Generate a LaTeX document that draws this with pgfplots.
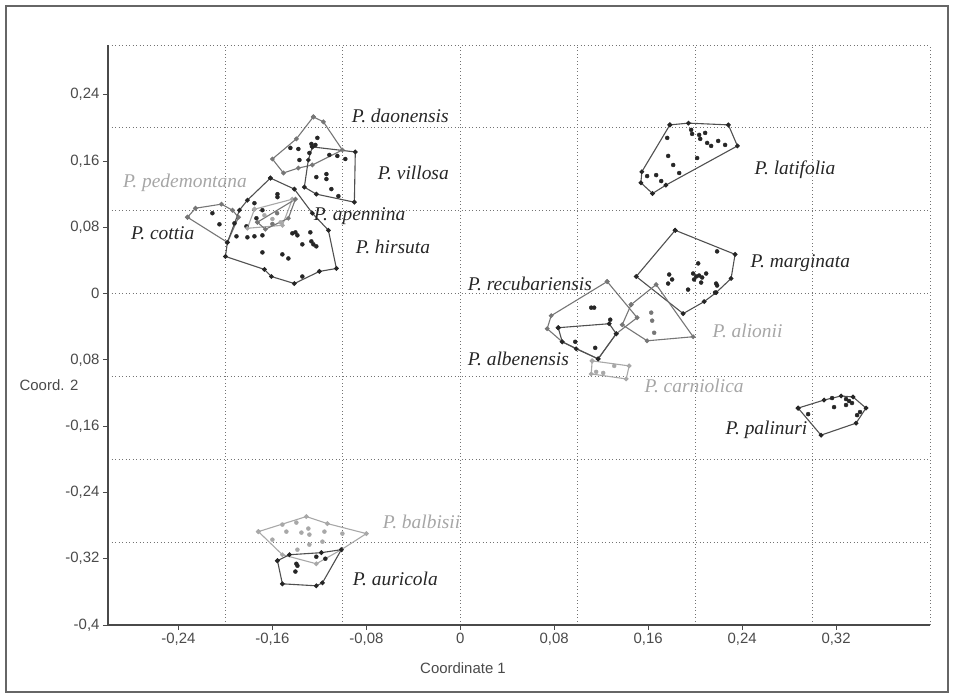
\documentclass[border=0pt]{standalone}
\usepackage{pgfplots}
\pgfplotsset{compat=1.18}
\usepackage{fontspec}
\setmainfont{Liberation Sans}
\newfontfamily\spfont{Liberation Serif}
\definecolor{axgray}{HTML}{4A4A4A}
\definecolor{darkpt}{HTML}{262626}
\definecolor{darkln}{HTML}{505050}
\definecolor{midln}{HTML}{767676}
\definecolor{lightln}{HTML}{A8A8A8}
\definecolor{lighttx}{HTML}{A6A6A6}
\pgfplotsset{
  hullD/.style={darkln, line width=1.1bp, mark=*, mark size=1.8bp, mark options={fill=darkpt, draw=darkpt}},
  hullM/.style={midln, line width=1.1bp, mark=*, mark size=1.8bp, mark options={fill=midln, draw=midln}},
  hullL/.style={lightln, line width=1.1bp, mark=*, mark size=1.8bp, mark options={fill=lightln, draw=lightln}},
  ptsD/.style={only marks, mark=*, mark size=2bp, darkpt},
  ptsM/.style={only marks, mark=*, mark size=2bp, midln},
  ptsL/.style={only marks, mark=*, mark size=2bp, lightln},
}
\newcommand{\splab}[1]{{\spfont\itshape\fontsize{19.5}{22}\selectfont #1}}
\begin{document}
\begin{tikzpicture}
\useasboundingbox (0,0) rectangle (954bp,698bp);
\draw[black!60, line width=1.8bp] (6bp,6bp) rectangle (948bp,692bp);
\begin{axis}[
  at={(108bp,73bp)}, anchor=south west,
  scale only axis, width=822bp, height=580bp,
  xmin=-0.3, xmax=0.4, ymin=-0.4, ymax=0.3,
  axis lines=left,
  axis line style={-, axgray, line width=1.3bp},
  clip=false,
  xtick={-0.24,-0.16,-0.08,0,0.08,0.16,0.24,0.32},
  xticklabels={{-0,24},{-0,16},{-0,08},{0},{0,08},{0,16},{0,24},{0,32}},
  ytick={-0.4,-0.32,-0.24,-0.16,-0.08,0,0.08,0.16,0.24},
  yticklabels={{-0,4},{-0,32},{-0,24},{-0,16},{0,08},{0},{0,08},{0,16},{0,24}},
  tick align=outside,
  major tick length=5bp,
  tick style={axgray, line width=1bp},
  minor xtick={-0.2,-0.1,0,0.1,0.2,0.3,0.4},
  minor ytick={-0.3,-0.2,-0.1,0,0.1,0.2,0.3},
  minor tick length=0pt,
  xminorgrids=true, yminorgrids=true,
  minor grid style={black!55, line width=0.9bp, dash pattern=on 0.9bp off 2.6bp},
  ticklabel style={font=\fontsize{15}{18}\selectfont, text=axgray},
]
% P. daonensis
\addplot[hullM] coordinates {(-0.1251,0.2133) (-0.1166,0.2073) (-0.1004,0.1733) (-0.1260,0.1552) (-0.1379,0.1515) (-0.1506,0.1455) (-0.1600,0.1624) (-0.1396,0.1867) (-0.1251,0.2133)};
\addplot[ptsD] coordinates {(-0.1447,0.1758) (-0.1379,0.1745) (-0.1268,0.1806) (-0.1217,0.1879) (-0.1234,0.1794) (-0.1285,0.1697) (-0.1370,0.1612)};
% P. villosa
\addplot[hullD] coordinates {(-0.1260,0.1770) (-0.0894,0.1709) (-0.0902,0.1103) (-0.1226,0.1200) (-0.1328,0.1285) (-0.1294,0.1612) (-0.1260,0.1770)};
\addplot[ptsD] coordinates {(-0.1115,0.1673) (-0.1047,0.1661) (-0.0979,0.1624) (-0.1226,0.1406) (-0.1140,0.1442) (-0.1140,0.1382) (-0.1098,0.1261) (-0.1038,0.1176)};
% P. cottia
\addplot[hullM] coordinates {(-0.2323,0.0921) (-0.2255,0.1030) (-0.2034,0.1079) (-0.1940,0.1006) (-0.1889,0.0921) (-0.1983,0.0618) (-0.2323,0.0921)};
\addplot[ptsD] coordinates {(-0.2111,0.0970) (-0.2051,0.0836) (-0.1923,0.0848)};
% P. hirsuta
\addplot[hullD] coordinates {(-0.1617,0.1394) (-0.1413,0.1261) (-0.1260,0.0970) (-0.1123,0.0764) (-0.1055,0.0303) (-0.1200,0.0267) (-0.1413,0.0121) (-0.1609,0.0206) (-0.1668,0.0291) (-0.2000,0.0448) (-0.1983,0.0618) (-0.1881,0.1006) (-0.1813,0.1127) (-0.1617,0.1394)};
\addplot[ptsD] coordinates {(-0.1753,0.1091) (-0.1685,0.1006) (-0.1557,0.1164) (-0.1557,0.1200) (-0.1736,0.0909) (-0.1821,0.0812) (-0.1813,0.0679) (-0.1753,0.0691) (-0.1685,0.0703) (-0.1430,0.0727) (-0.1387,0.0703) (-0.1345,0.0594) (-0.1268,0.0630) (-0.1277,0.0739) (-0.1226,0.0570) (-0.1685,0.0497) (-0.1515,0.0473) (-0.1464,0.0424) (-0.1345,0.0206) (-0.1906,0.0691) (-0.1404,0.0739) (-0.1251,0.0594)};
% P. pedemontana
\addplot[hullL] coordinates {(-0.1753,0.1018) (-0.1430,0.1139) (-0.1515,0.0824) (-0.1813,0.0788) (-0.1753,0.1018)};
\addplot[ptsL] coordinates {(-0.1668,0.0945) (-0.1600,0.0900) (-0.1530,0.0860)};
% P. apennina
\addplot[hullM] coordinates {(-0.1728,0.0861) (-0.1404,0.1139) (-0.1464,0.0909) (-0.1660,0.0776) (-0.1728,0.0861)};
\addplot[ptsM] coordinates {(-0.1560,0.0970) (-0.1600,0.0840)};
% P. latifolia
\addplot[hullD] coordinates {(0.1785,0.2036) (0.1943,0.2057) (0.2283,0.2036) (0.2360,0.1782) (0.1751,0.1309) (0.1637,0.1208) (0.1538,0.1337) (0.1546,0.1470) (0.1785,0.2036)};
\addplot[ptsD] coordinates {(0.1966,0.1976) (0.1974,0.1927) (0.2034,0.1915) (0.2085,0.1939) (0.2043,0.1867) (0.2102,0.1818) (0.2136,0.1782) (0.2196,0.1842) (0.2255,0.1794) (0.1762,0.1879) (0.1770,0.1661) (0.1813,0.1552) (0.1864,0.1455) (0.2017,0.1636) (0.1591,0.1418) (0.1668,0.1430) (0.1711,0.1358)};
% P. marginata
\addplot[hullD] coordinates {(0.1830,0.0764) (0.2340,0.0473) (0.2306,0.0182) (0.2179,0.0012) (0.2077,-0.0097) (0.1898,-0.0242) (0.1498,0.0206) (0.1830,0.0764)};
\addplot[ptsD] coordinates {(0.2187,0.0509) (0.2026,0.0364) (0.1779,0.0230) (0.1804,0.0170) (0.1770,0.0121) (0.1983,0.0242) (0.2009,0.0206) (0.2034,0.0218) (0.2060,0.0194) (0.2094,0.0242) (0.2051,0.0133) (0.1991,0.0170) (0.1940,0.0048) (0.2179,0.0121) (0.2187,0.0097) (0.2170,0.0012)};
% P. recubariensis
\addplot[hullM] coordinates {(0.1251,0.0145) (0.1506,-0.0291) (0.1328,-0.0485) (0.1174,-0.0788) (0.0868,-0.0582) (0.0740,-0.0424) (0.0774,-0.0267) (0.1251,0.0145)};
\addplot[ptsD] coordinates {(0.1115,-0.0170) (0.1140,-0.0170) (0.1277,-0.0315)};
% P. albenensis
\addplot[hullD] coordinates {(0.0834,-0.0412) (0.1268,-0.0364) (0.1328,-0.0485) (0.1174,-0.0788) (0.0987,-0.0667) (0.0868,-0.0582) (0.0834,-0.0412)};
\addplot[ptsD] coordinates {(0.0979,-0.0582) (0.1149,-0.0655)};
% P. alionii
\addplot[hullM] coordinates {(0.1455,-0.0133) (0.1668,0.0109) (0.1983,-0.0521) (0.1591,-0.0570) (0.1379,-0.0376) (0.1455,-0.0133)};
\addplot[ptsM] coordinates {(0.1626,-0.0230) (0.1634,-0.0327) (0.1651,-0.0473)};
% P. carniolica
\addplot[hullL] coordinates {(0.1123,-0.0812) (0.1438,-0.0873) (0.1413,-0.1030) (0.1115,-0.0970) (0.1123,-0.0812)};
\addplot[ptsL] coordinates {(0.1311,-0.0873) (0.1157,-0.0945) (0.1217,-0.0958)};
% P. palinuri
\addplot[hullD] coordinates {(0.2877,-0.1382) (0.3098,-0.1285) (0.3243,-0.1236) (0.3345,-0.1248) (0.3455,-0.1382) (0.3370,-0.1564) (0.3072,-0.1709) (0.2877,-0.1382)};
\addplot[ptsD] coordinates {(0.3166,-0.1261) (0.3285,-0.1273) (0.3311,-0.1297) (0.3336,-0.1321) (0.3183,-0.1370) (0.3285,-0.1345) (0.2962,-0.1455) (0.3379,-0.1467) (0.3404,-0.1430)};
% P. balbisii
\addplot[hullL] coordinates {(-0.1719,-0.2873) (-0.1311,-0.2691) (-0.1132,-0.2776) (-0.0800,-0.2897) (-0.1013,-0.3091) (-0.1226,-0.3261) (-0.1515,-0.3152) (-0.1719,-0.2873)};
\addplot[ptsL] coordinates {(-0.1515,-0.2788) (-0.1396,-0.2764) (-0.1481,-0.2873) (-0.1353,-0.2885) (-0.1294,-0.2836) (-0.1285,-0.2909) (-0.1157,-0.2873) (-0.1004,-0.2897) (-0.1174,-0.2994) (-0.1285,-0.3030) (-0.1387,-0.3091) (-0.1600,-0.2970)};
% P. auricola
\addplot[hullD] coordinates {(-0.1557,-0.3224) (-0.1455,-0.3152) (-0.1183,-0.3127) (-0.1013,-0.3091) (-0.1174,-0.3491) (-0.1226,-0.3527) (-0.1515,-0.3503) (-0.1557,-0.3224)};
\addplot[ptsD] coordinates {(-0.1396,-0.3261) (-0.1387,-0.3285) (-0.1404,-0.3355) (-0.1149,-0.3200) (-0.1226,-0.3176)};
% labels
\node[anchor=west, text=darkpt] at (axis cs:-0.0953,0.2145) {\splab{P. daonensis}};
\node[anchor=west, text=darkpt] at (axis cs:-0.0732,0.1455) {\splab{P. villosa}};
\node[anchor=west, text=lighttx] at (axis cs:-0.2902,0.1333) {\splab{P. pedemontana}};
\node[anchor=west, text=darkpt] at (axis cs:-0.1277,0.0933) {\splab{P. apennina}};
\node[anchor=west, text=darkpt] at (axis cs:-0.2834,0.0727) {\splab{P. cottia}};
\node[anchor=west, text=darkpt] at (axis cs:-0.0919,0.0558) {\splab{P. hirsuta}};
\node[anchor=west, text=darkpt] at (axis cs:0.2477,0.1491) {\splab{P. latifolia}};
\node[anchor=west, text=darkpt] at (axis cs:0.2443,0.0364) {\splab{P. marginata}};
\node[anchor=west, text=darkpt] at (axis cs:0.0034,0.0121) {\splab{P. recubariensis}};
\node[anchor=west, text=lighttx] at (axis cs:0.2119,-0.0448) {\splab{P. alionii}};
\node[anchor=west, text=darkpt] at (axis cs:0.0034,-0.0788) {\splab{P. albenensis}};
\node[anchor=west, text=lighttx] at (axis cs:0.1540,-0.1115) {\splab{P. carniolica}};
\node[anchor=west, text=darkpt] at (axis cs:0.2230,-0.1648) {\splab{P. palinuri}};
\node[anchor=west, text=lighttx] at (axis cs:-0.0689,-0.2752) {\splab{P. balbisii}};
\node[anchor=west, text=darkpt] at (axis cs:-0.0945,-0.3442) {\splab{P. auricola}};
\end{axis}
\node[text=axgray, font=\fontsize{15}{18}\selectfont] at (49bp,313bp) {Coord. 2};
\node[text=axgray, font=\fontsize{15}{18}\selectfont] at (463bp,30bp) {Coordinate 1};
\end{tikzpicture}
\end{document}
